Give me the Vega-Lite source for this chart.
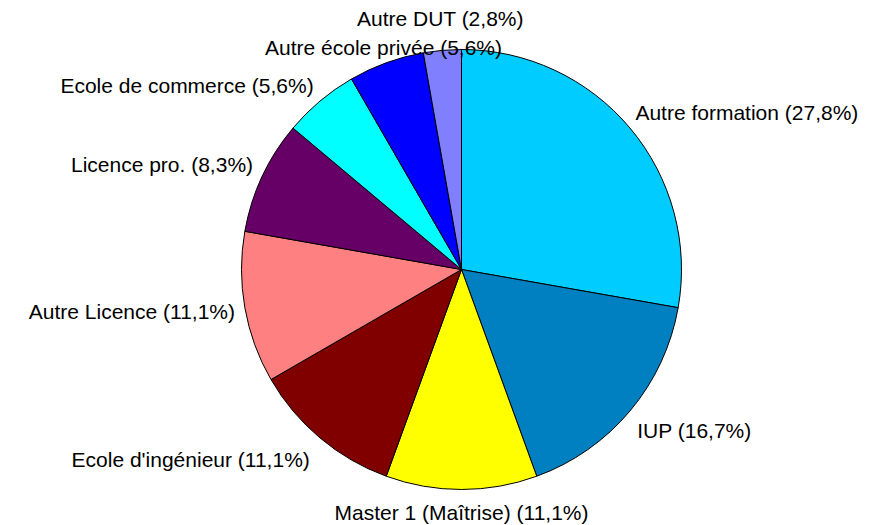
{
  "$schema": "https://vega.github.io/schema/vega-lite/v6.json",
  "width": 440,
  "height": 440,
  "autosize": {"type": "none"},
  "padding": {"left": 241.5, "top": 49.5, "right": 188.5, "bottom": 35.5},
  "background": "white",
  "config": {"view": {"stroke": null}, "text": {"font": "Liberation Sans", "fontSize": 21, "fill": "#000000"}},
  "data": {
    "values": [
      {"idx": 1, "cat": "Autre formation", "value": 10, "label": "Autre formation (27,8%)"},
      {"idx": 2, "cat": "IUP", "value": 6, "label": "IUP (16,7%)"},
      {"idx": 3, "cat": "Master 1 (Maîtrise)", "value": 4, "label": "Master 1 (Maîtrise) (11,1%)"},
      {"idx": 4, "cat": "Ecole d'ingénieur", "value": 4, "label": "Ecole d'ingénieur (11,1%)"},
      {"idx": 5, "cat": "Autre Licence", "value": 4, "label": "Autre Licence (11,1%)"},
      {"idx": 6, "cat": "Licence pro.", "value": 3, "label": "Licence pro. (8,3%)"},
      {"idx": 7, "cat": "Ecole de commerce", "value": 2, "label": "Ecole de commerce (5,6%)"},
      {"idx": 8, "cat": "Autre école privée", "value": 2, "label": "Autre école privée (5,6%)"},
      {"idx": 9, "cat": "Autre DUT", "value": 1, "label": "Autre DUT (2,8%)"}
    ]
  },
  "encoding": {
    "theta": {"field": "value", "type": "quantitative", "stack": true},
    "order": {"field": "idx", "type": "quantitative", "sort": "ascending"}
  },
  "layer": [
    {
      "mark": {"type": "arc", "stroke": "#000000", "strokeWidth": 1},
      "encoding": {
        "color": {
          "field": "cat",
          "type": "nominal",
          "legend": null,
          "scale": {
            "domain": ["Autre formation", "IUP", "Master 1 (Maîtrise)", "Ecole d'ingénieur", "Autre Licence", "Licence pro.", "Ecole de commerce", "Autre école privée", "Autre DUT"],
            "range": ["#00CCFF", "#0080C0", "#FFFF00", "#800000", "#FF8080", "#660066", "#00FFFF", "#0000FF", "#8080FF"]
          }
        }
      }
    },
    {
      "mark": {"type": "text", "align": "left", "baseline": "bottom"},
      "encoding": {
        "radius": {"value": 227},
        "text": {"condition": {"test": "datum.cat === 'Autre formation'", "field": "label"}, "value": ""}
      }
    },
    {
      "mark": {"type": "text", "align": "left", "baseline": "top", "dx": -5},
      "encoding": {
        "radius": {"value": 236},
        "text": {"condition": {"test": "datum.cat === 'IUP'", "field": "label"}, "value": ""}
      }
    },
    {
      "mark": {"type": "text", "align": "center", "baseline": "top"},
      "encoding": {
        "radius": {"value": 233},
        "text": {"condition": {"test": "datum.cat === 'Master 1 (Maîtrise)'", "field": "label"}, "value": ""}
      }
    },
    {
      "mark": {"type": "text", "align": "right", "baseline": "top"},
      "encoding": {
        "radius": {"value": 236},
        "text": {"condition": {"test": "datum.cat === \"Ecole d'ingénieur\"", "field": "label"}, "value": ""}
      }
    },
    {
      "mark": {"type": "text", "align": "right", "baseline": "middle", "dy": 4},
      "encoding": {
        "radius": {"value": 230},
        "text": {"condition": {"test": "datum.cat === 'Autre Licence'", "field": "label"}, "value": ""}
      }
    },
    {
      "mark": {"type": "text", "align": "right", "baseline": "alphabetic"},
      "encoding": {
        "radius": {"value": 230},
        "text": {"condition": {"test": "datum.cat === 'Licence pro.' || datum.cat === 'Ecole de commerce'", "field": "label"}, "value": ""}
      }
    },
    {
      "mark": {"type": "text", "align": "center", "baseline": "alphabetic"},
      "encoding": {
        "radius": {"value": 228},
        "text": {"condition": {"test": "datum.cat === 'Autre école privée'", "field": "label"}, "value": ""}
      }
    },
    {
      "mark": {"type": "text", "align": "center", "baseline": "alphabetic"},
      "encoding": {
        "radius": {"value": 244},
        "text": {"condition": {"test": "datum.cat === 'Autre DUT'", "field": "label"}, "value": ""}
      }
    }
  ]
}
